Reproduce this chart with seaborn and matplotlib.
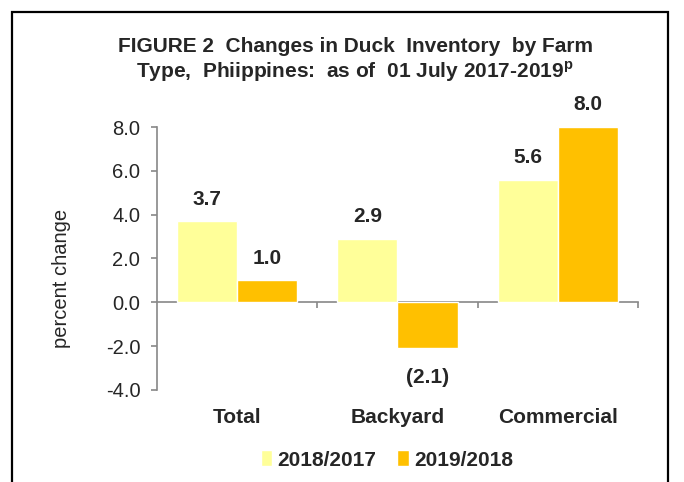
import numpy as np
import pandas as pd
import seaborn as sns
import matplotlib.pyplot as plt
from matplotlib.patches import Rectangle
from matplotlib.ticker import FormatStrFormatter

sns.set_theme(style="white")
plt.rcParams['font.family'] = ['Liberation Sans', 'DejaVu Sans']
plt.rcParams['axes.unicode_minus'] = False
plt.rcParams['mathtext.fontset'] = 'custom'
plt.rcParams['mathtext.bf'] = 'Liberation Sans:bold'

farm_types = ["Total", "Backyard", "Commercial"]
periods = ["2018/2017", "2019/2018"]
change_18_17 = [3.7, 2.9, 5.6]
change_19_18 = [1.0, -2.1, 8.0]
colors = ["#FFFF99", "#FFC000"]

df = pd.DataFrame({
    "farm": farm_types * 2,
    "period": [periods[0]] * 3 + [periods[1]] * 3,
    "change": change_18_17 + change_19_18,
})

fig = plt.figure(figsize=(6.84, 4.82), dpi=100)
ax = fig.add_axes([0.2295, 0.191, 0.703, 0.5455])

sns.barplot(data=df, x="farm", y="change", hue="period", palette=colors,
            width=0.75, gap=0, saturation=1, errorbar=None, ax=ax)

ax.set_ylim(-4, 8)
ax.set_xlim(-0.5, 2.5)
ax.set_yticks(np.arange(-4, 8.1, 2))
ax.yaxis.set_major_formatter(FormatStrFormatter("%.1f"))
ax.tick_params(axis="y", left=True, length=4, width=1.2, color="#888888",
               labelsize=14.5, pad=8)
ax.tick_params(axis="x", bottom=False, length=0, labelsize=15, pad=13)
for t in ax.get_xticklabels():
    t.set_fontweight("bold")
ax.set_xlabel("")
ax.set_ylabel("percent change", fontsize=14.5)
ax.yaxis.set_label_coords(-0.178, (390 - 278) / 263)

for s in ["top", "right", "bottom"]:
    ax.spines[s].set_visible(False)
ax.spines["left"].set_color("#888888")
ax.spines["left"].set_linewidth(1.2)

# zero line with category boundary ticks
zero = ax.secondary_xaxis((0 - (-4)) / 12)
zero.set_xticks([0.5, 1.5, 2.5])
zero.tick_params(direction="out", length=4, width=1.2, color="#888888",
                 labelbottom=False, labeltop=False)
zero.spines["bottom"].set_color("#888888")
zero.spines["bottom"].set_linewidth(1.2)

for cont in ax.containers:
    for bar in cont:
        v = bar.get_height()
        x = bar.get_x() + bar.get_width() / 2
        if v >= 0:
            txt, off = f"{v:.1f}", 16
        else:
            txt, off = f"({-v:.1f})", -21
        ax.annotate(txt, (x, v), xytext=(0, off), textcoords="offset points",
                    ha="center", va="center", fontsize=15, fontweight="bold")

ax.legend(handles=ax.get_legend().legend_handles, labels=periods,
          loc="center", bbox_to_anchor=(387 / 684, 1 - 460 / 482),
          bbox_transform=fig.transFigure, ncol=2, frameon=False,
          prop={"size": 15, "weight": "bold"}, handlelength=0.55,
          handleheight=0.8, handletextpad=0.25, columnspacing=1.0)

fig.text(355 / 684, 1 - 47 / 482,
         "FIGURE 2  Changes in Duck  Inventory  by Farm",
         ha="center", va="center", fontsize=15, fontweight="bold")
fig.text(355 / 684, 1 - 72 / 482,
         "Type,  Phiippines:  as of  01 July 2017-2019$^\\mathbf{p}$",
         ha="center", va="center", fontsize=15, fontweight="bold")

fig.add_artist(Rectangle((12 / 684, -0.1), 656 / 684, 1.1 - 12 / 482,
                         transform=fig.transFigure, fill=False,
                         edgecolor="black", linewidth=1.6))

fig.savefig("out.png", dpi=100)
